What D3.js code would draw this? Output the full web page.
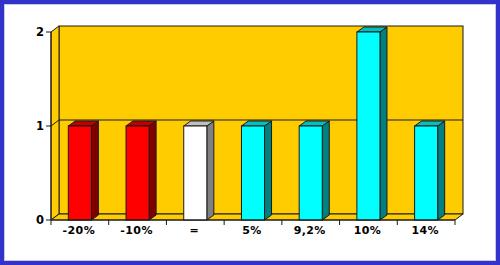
<!DOCTYPE html>
<html><head><meta charset="utf-8">
<script src="https://cdn.jsdelivr.net/npm/d3@7"></script>
<style>html,body{margin:0;padding:0;background:#fff;}svg{display:block;}</style>
</head><body>
<svg id="c" width="500" height="265"></svg>
<script>
const categories = ["-20%", "-10%", "=", "5%", "9,2%", "10%", "14%"];
const values = [1, 1, 1, 1, 1, 2, 1];
const barColors = ["red", "red", "white", "cyan", "cyan", "cyan", "cyan"];
const yTicks = [0, 1, 2];

const palette = {
  red:   {front: "#FF0000", side: "#800000", top: "#C00000"},
  white: {front: "#FFFFFF", side: "#808080", top: "#C0C0C0"},
  cyan:  {front: "#00FFFF", side: "#008080", top: "#00C0C0"}
};

const svg = d3.select("#c");
const W = 500, H = 265;
// frame
svg.append("rect").attr("x", 0).attr("y", 0).attr("width", W).attr("height", H).attr("fill", "#3333CC");
svg.append("rect").attr("x", 4).attr("y", 4).attr("width", W - 8).attr("height", H - 8).attr("fill", "#C8C8E0");
svg.append("rect").attr("x", 5).attr("y", 5).attr("width", W - 10).attr("height", H - 10).attr("fill", "#FFFFFF");

const left = 51, right = 455, DX = 8, DY = -6;
const x = d3.scaleBand().domain(categories).range([left, right]).paddingInner(0.6).paddingOuter(0.3);
const xb = d3.scaleBand().domain(categories).range([left, right]);
const y = d3.scaleLinear().domain([0, 2]).range([220, 32]);

const wall = "#FFCC00", stroke = "#1a1a1a";
const g = svg.append("g");
// back wall
g.append("rect").attr("x", left + DX).attr("y", y(2) + DY).attr("width", right - left)
  .attr("height", y(0) - y(2)).attr("fill", wall).attr("stroke", stroke).attr("stroke-width", 1);
// left wall
g.append("polygon").attr("points", [[left, y(2)], [left + DX, y(2) + DY], [left + DX, y(0) + DY], [left, y(0)]].join(" "))
  .attr("fill", wall).attr("stroke", stroke).attr("stroke-width", 1);
// floor
g.append("polygon").attr("points", [[left, y(0)], [right, y(0)], [right + DX, y(0) + DY], [left + DX, y(0) + DY]].join(" "))
  .attr("fill", wall).attr("stroke", stroke).attr("stroke-width", 1);
// gridlines
yTicks.filter(t => t > 0 && t < 2).forEach(t => {
  g.append("polyline").attr("points", [[left, y(t)], [left + DX, y(t) + DY], [right + DX, y(t) + DY]].join(" "))
    .attr("fill", "none").attr("stroke", stroke).attr("stroke-width", 1);
});

// bars
const bdx = 7, bdy = -5;
categories.forEach((c, i) => {
  const col = palette[barColors[i]];
  const x0 = x(c), x1 = x(c) + x.bandwidth();
  const yt = y(values[i]), yb = y(0);
  const bg = g.append("g").attr("stroke", stroke).attr("stroke-width", 1).attr("stroke-linejoin", "miter");
  bg.append("polygon").attr("points", [[x1, yt], [x1 + bdx, yt + bdy], [x1 + bdx, yb + bdy], [x1, yb]].join(" ")).attr("fill", col.side);
  bg.append("polygon").attr("points", [[x0, yt], [x0 + bdx, yt + bdy], [x1 + bdx, yt + bdy], [x1, yt]].join(" ")).attr("fill", col.top);
  bg.append("rect").attr("x", x0).attr("y", yt).attr("width", x1 - x0).attr("height", yb - yt).attr("fill", col.front);
});

// y axis
const ya = svg.append("g");
ya.append("line").attr("x1", left).attr("x2", left).attr("y1", y(2)).attr("y2", y(0)).attr("stroke", stroke);
yTicks.forEach(t => {
  ya.append("line").attr("x1", left - 5).attr("x2", left).attr("y1", y(t)).attr("y2", y(t)).attr("stroke", stroke);
  ya.append("text").attr("x", left - 7).attr("y", y(t)).attr("dy", "0.35em").attr("text-anchor", "end")
    .attr("font-family", "DejaVu Sans, Verdana, sans-serif").attr("font-weight", "bold").attr("font-size", 11.5)
    .text(t);
});
// x axis
const xa = svg.append("g");
xa.append("line").attr("x1", left).attr("x2", right).attr("y1", y(0)).attr("y2", y(0)).attr("stroke", stroke);
const bounds = categories.map(c => xb(c)).concat([right]);
bounds.forEach(bx => {
  xa.append("line").attr("x1", bx).attr("x2", bx).attr("y1", y(0)).attr("y2", y(0) + 5).attr("stroke", stroke);
});
categories.forEach(c => {
  xa.append("text").attr("x", xb(c) + xb.bandwidth() / 2 - 1).attr("y", 234).attr("text-anchor", "middle")
    .attr("font-family", "DejaVu Sans, Verdana, sans-serif").attr("font-weight", "bold").attr("font-size", 11)
    .attr("letter-spacing", "0.4px")
    .text(c);
});
</script>
</body></html>
